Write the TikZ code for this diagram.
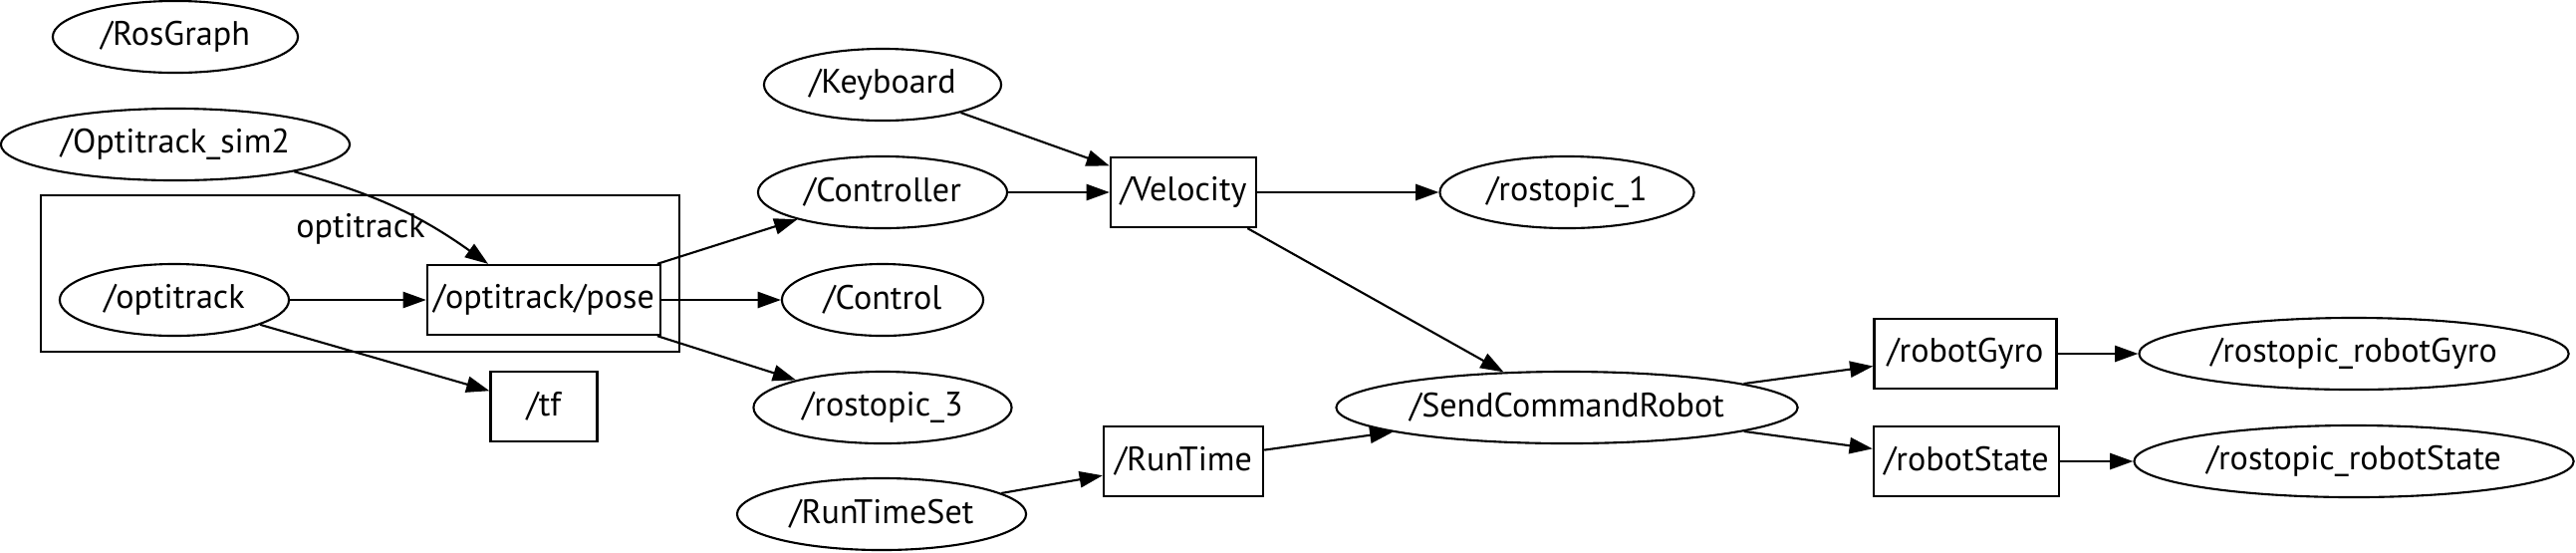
\documentclass[tikz,border=0pt]{standalone}
\usepackage{fontspec}
\setmainfont{PT Sans}
\usetikzlibrary{shapes.geometric, arrows.meta}

\begin{document}
\begin{tikzpicture}[x=0.01cm, y=-0.01cm,
  font=\fontsize{9.7}{11}\selectfont,
  rosnode/.style={draw, ellipse, line width=0.6pt, inner sep=0pt, minimum height=0.72cm},
  topic/.style={draw, rectangle, line width=0.65pt, inner sep=0pt, minimum height=0.70cm},
  link/.style={line width=0.6pt, -{Triangle[length=6.6pt, width=4.6pt]}}]

  \useasboundingbox (0,0) rectangle (2586,554);

  % --- 1. クラスタ optitrack ---
  \draw[line width=0.65pt] (41,196) rectangle (682,353);
  \node (clusterLabel) at (362,230) {optitrack};

  % --- 2. ノード (楕円) ---
  \node[rosnode, minimum width=2.46cm] (RosGraph) at (176,37) {/RosGraph};
  \node[rosnode, minimum width=3.50cm] (OptitrackSim2) at (176,145) {/Optitrack\_sim2};
  \node[rosnode, minimum width=2.30cm] (optitrack) at (175,301) {/optitrack};
  \node[rosnode, minimum width=2.38cm] (Keyboard) at (886,85) {/Keyboard};
  \node[rosnode, minimum width=2.50cm] (Controller) at (886,193) {/Controller};
  \node[rosnode, minimum width=2.02cm] (Control) at (886,301) {/Control};
  \node[rosnode, minimum width=2.59cm] (rostopic3) at (886,409) {/rostopic\_3};
  \node[rosnode, minimum width=2.90cm] (RunTimeSet) at (885,516) {/RunTimeSet};
  \node[rosnode, minimum width=2.55cm] (rostopic1) at (1573,193) {/rostopic\_1};
  \node[rosnode, minimum width=4.63cm] (SendCommandRobot) at (1573,409) {/SendCommandRobot};
  \node[rosnode, minimum width=4.31cm] (rostopicGyro) at (2363,355) {/rostopic\_robotGyro};
  \node[rosnode, minimum width=4.41cm] (rostopicState) at (2363,463) {/rostopic\_robotState};

  % --- 3. トピック (四角) ---
  \node[topic, minimum width=2.34cm] (pose) at (546,301) {/optitrack/pose};
  \node[topic, minimum width=1.07cm] (tf) at (546,408) {/tf};
  \node[topic, minimum width=1.46cm] (Velocity) at (1188,193) {/Velocity};
  \node[topic, minimum width=1.60cm] (RunTime) at (1188,463) {/RunTime};
  \node[topic, minimum width=1.83cm] (robotGyro) at (1973,355) {/robotGyro};
  \node[topic, minimum width=1.86cm] (robotState) at (1974,463) {/robotState};

  % --- 4. 矢印 ---
  \draw[link] (OptitrackSim2) to[bend left=10] (pose);
  \draw[link] (optitrack) -- (pose);
  \draw[link] (optitrack) -- (tf);
  \draw[link] (pose) -- (Controller);
  \draw[link] (pose) -- (Control);
  \draw[link] (pose) -- (rostopic3);
  \draw[link] (Keyboard) -- (Velocity);
  \draw[link] (Controller) -- (Velocity);
  \draw[link] (Velocity) -- (rostopic1);
  \draw[link] (Velocity) -- (SendCommandRobot);
  \draw[link] (RunTimeSet) -- (RunTime);
  \draw[link] (RunTime) -- (SendCommandRobot);
  \draw[link] (SendCommandRobot) -- (robotGyro);
  \draw[link] (SendCommandRobot) -- (robotState);
  \draw[link] (robotGyro) -- (rostopicGyro);
  \draw[link] (robotState) -- (rostopicState);

\end{tikzpicture}
\end{document}
